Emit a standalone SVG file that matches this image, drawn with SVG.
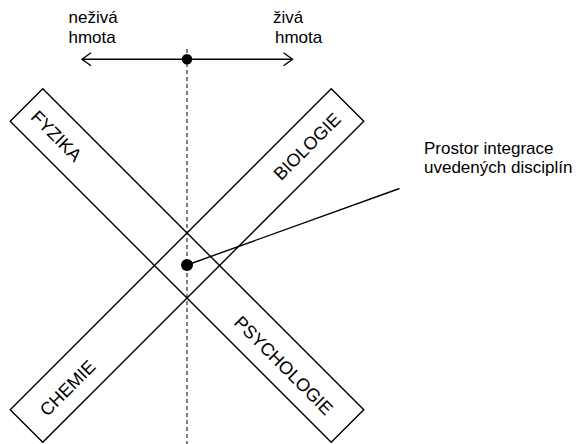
<svg xmlns="http://www.w3.org/2000/svg" width="576" height="444" viewBox="0 0 576 444">
<style>
.ln{stroke:#000;stroke-width:1.4;fill:none}
.band{stroke:#000;stroke-width:1.4;fill:none}
.dash{stroke:#000;stroke-width:1;stroke-dasharray:4 3;fill:none}
.t{font-family:"Liberation Sans",Arial,sans-serif;fill:#000;font-size:17px}
.bl{font-family:"Liberation Sans",Arial,sans-serif;fill:#000;font-size:18px;text-anchor:middle}
</style>
<defs>
<marker id="arr" markerUnits="userSpaceOnUse" viewBox="-11 -8 13 16" refX="0" refY="0" markerWidth="13" markerHeight="16" orient="auto-start-reverse">
<path d="M-9,-6.5 L0,0 L-9,6.5" fill="none" stroke="#000" stroke-width="1.4"/>
</marker>
</defs>
<rect width="576" height="444" fill="#fff"/>
<g id="band-fyzika-psychologie" transform="translate(187,265.5) rotate(45)">
<rect class="band" x="-227" y="-23" width="454" height="46"/>
<g id="fyzika"><text class="bl" x="-184" y="7">FYZIKA</text></g>
<g id="psychologie"><text class="bl" x="139" y="8.5">PSYCHOLOGIE</text></g>
</g>
<g id="band-biologie-chemie" transform="translate(187,265.5) rotate(-45)">
<rect class="band" x="-227" y="-23" width="454" height="46"/>
<g id="biologie"><text class="bl" x="169" y="7">BIOLOGIE</text></g>
<g id="chemie"><text class="bl" x="-171" y="8.5">CHEMIE</text></g>
</g>
<g id="connectors">
<line class="dash" x1="187" y1="49" x2="187" y2="444"/>
<line class="ln" x1="82" y1="59.3" x2="292.5" y2="59.3" marker-start="url(#arr)" marker-end="url(#arr)"/>
<line class="ln" x1="187" y1="265" x2="399.5" y2="188.5"/>
</g>
<g id="axis-center"><circle cx="187" cy="59.3" r="5.3" fill="#000"/></g>
<g id="integration-point"><circle cx="187" cy="265" r="6" fill="#000"/></g>
<g id="label-nezive"><text class="t" x="68.5" y="22.5">neživá</text><text class="t" x="68.5" y="43">hmota</text></g>
<g id="label-zive"><text class="t" x="273" y="22.5">živá</text><text class="t" x="275" y="43">hmota</text></g>
<g id="label-prostor"><text class="t" x="424" y="154">Prostor integrace</text><text class="t" x="424" y="173">uvedených disciplín</text></g>
</svg>
